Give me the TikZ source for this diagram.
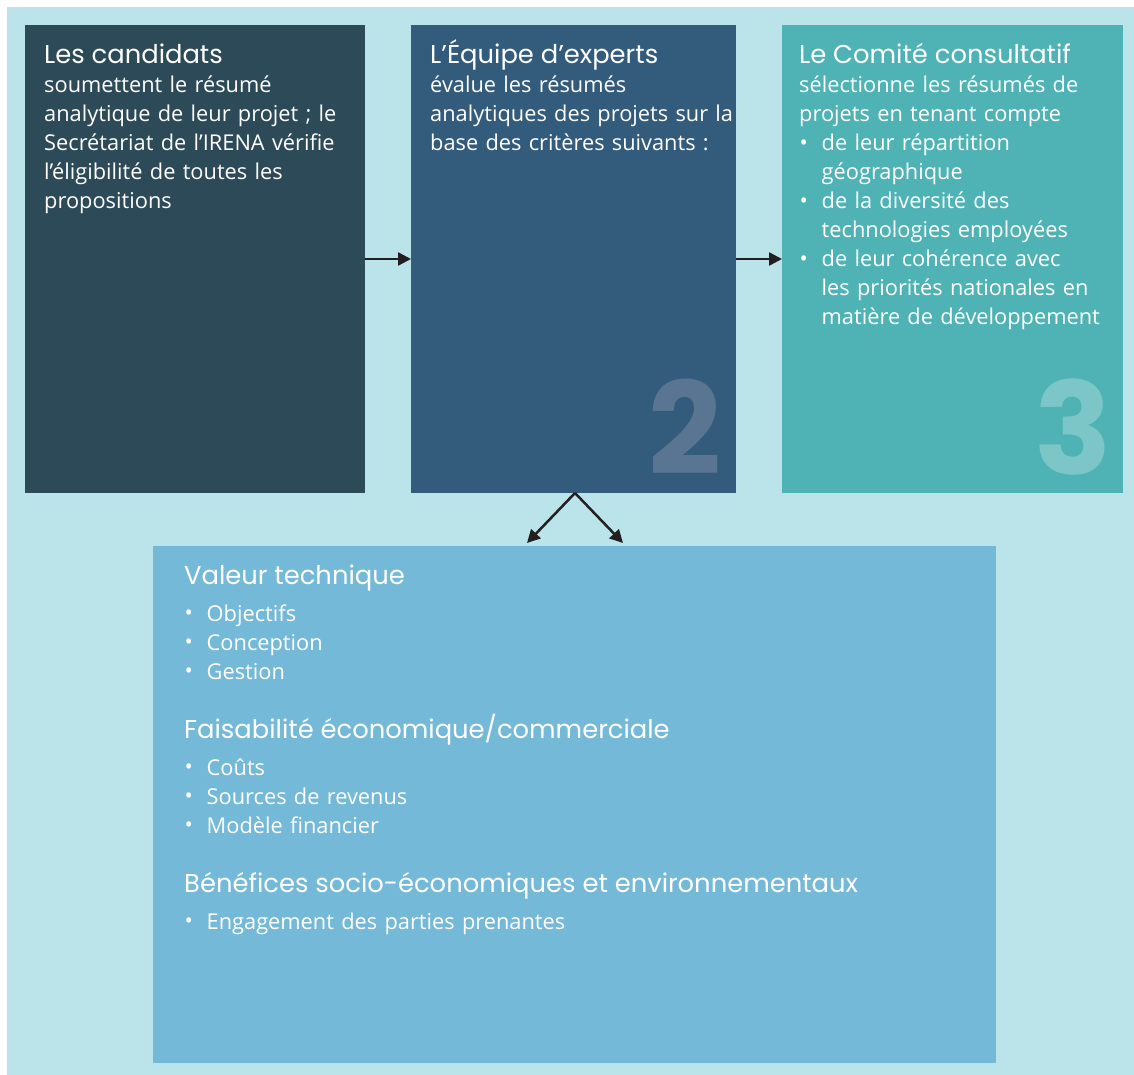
\documentclass[tikz,border=0pt]{standalone}
\usepackage{fontspec}
\setmainfont{Open Sans}[Ligatures=NoCommon]
\newfontfamily\titlefont{Poppins}
\usetikzlibrary{arrows.meta}
\definecolor{bg}{HTML}{BBE3EA}
\definecolor{cone}{HTML}{2D4A58}
\definecolor{ctwo}{HTML}{335B7B}
\definecolor{cthree}{HTML}{4FB3B5}
\definecolor{cfour}{HTML}{75B9D9}
\definecolor{ntwo}{HTML}{5A7592}
\definecolor{nthree}{HTML}{7CC6C7}
\definecolor{arrowc}{HTML}{231F20}
\newcommand{\bul}{\makebox[22.5pt][l]{\kern0.5pt\raisebox{0.5pt}{\fontsize{22}{22}\selectfont•}}}
\newcommand{\ind}{\hspace*{22.5pt}}
\tikzset{
  panel/.style={draw=none, anchor=north west, inner sep=0pt, outer sep=0pt},
  ttl/.style={anchor=base west, inner sep=0pt, text=white, font=\titlefont\fontsize{25.8}{29}\selectfont},
  body/.style={anchor=base west, inner sep=0pt, text=white, text width=330pt, align=left, font=\fontsize{21.8}{29}\selectfont},
  wbody/.style={body, text width=600pt},
  bignum/.style={anchor=base east, inner sep=0pt, font=\titlefont\bfseries\fontsize{128}{128}\selectfont},
  arr/.style={draw=arrowc, line width=2.5pt, -{Triangle[length=13pt,width=13pt]}}
}
\begin{document}
\begin{tikzpicture}[x=1pt,y=-1pt]
\useasboundingbox (0,0) rectangle (1134,1075);
\fill[bg] (7,7) rectangle (1134,1075);
% panels
\node[panel, fill=cone, minimum width=340pt, minimum height=468pt] (b1) at (25,25) {};
\node[panel, fill=ctwo, minimum width=325pt, minimum height=468pt] (b2) at (411,25) {};
\node[panel, fill=cthree, minimum width=341pt, minimum height=468pt] (b3) at (782,25) {};
\node[panel, fill=cfour, minimum width=843pt, minimum height=517pt] (b4) at (153,546) {};
% big numbers
\node[bignum, text=ntwo] (n2) at (722,474) {2};
\node[bignum, text=nthree] (n3) at (1112,474) {3};
% box 1
\node[ttl] (t1) at (44,64) {Les candidats};
\node[body] (x1) at (44,93) {soumettent le résumé\\
analytique de leur projet ; le\\
Secrétariat de l’IRENA vérifie\\
l’éligibilité de toutes les\\
propositions};
% box 2
\node[ttl] (t2) at (430,64) {L’Équipe d’experts};
\node[body] (x2) at (430,93) {évalue les résumés\\
analytiques des projets sur la\\
base des critères suivants :};
% box 3
\node[ttl] (t3) at (799,64) {Le Comité consultatif};
\node[body] (x3) at (799,93) {sélectionne les résumés de\\
projets en tenant compte\\
\bul de leur répartition\\
\ind géographique\\
\bul de la diversité des\\
\ind technologies employées\\
\bul de leur cohérence avec\\
\ind les priorités nationales en\\
\ind matière de développement};
% box 4
\node[ttl] (t4a) at (184,584) {Valeur technique};
\node[wbody] (x4a) at (184,621) {\bul Objectifs\\
\bul Conception\\
\bul Gestion};
\node[ttl] (t4b) at (184,738) {Faisabilité économique/commerciale};
\node[wbody] (x4b) at (184,775) {\bul Coûts\\
\bul Sources de revenus\\
\bul Modèle financier};
\node[ttl] (t4c) at (184,892) {Bénéfices socio-économiques et environnementaux};
\node[wbody] (x4c) at (184,929) {\bul Engagement des parties prenantes};
% connectors
\coordinate (apex) at (575,493);
\coordinate (lt) at (527,543);
\coordinate (rt) at (623,543);
\draw[arr] (b1.east) -- (b2.west);
\draw[arr] (b2.east) -- (b3.west);
\draw[arr] (apex) -- (lt);
\draw[arr] (apex) -- (rt);
\end{tikzpicture}
\end{document}
